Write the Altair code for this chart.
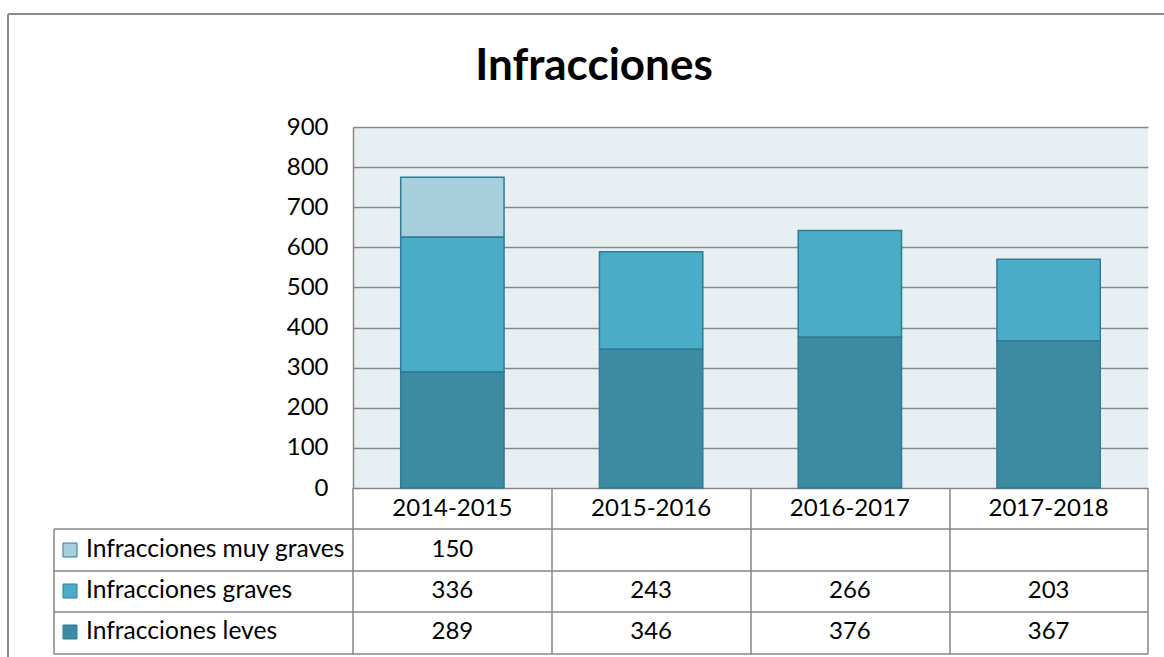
import altair as alt
import pandas as pd

years = ["2014-2015", "2015-2016", "2016-2017", "2017-2018"]
series = ["Infracciones muy graves", "Infracciones graves", "Infracciones leves"]
muy_graves = [150, None, None, None]
graves = [336, 243, 266, 203]
leves = [289, 346, 376, 367]
colors = ["#A9CEDC", "#4AACC6", "#3C8BA3"]
stack_order = [3, 2, 1]

rows = []
for s, vals, o in zip(series, [muy_graves, graves, leves], stack_order):
    for y, v in zip(years, vals):
        rows.append({"year": y, "series": s, "value": v, "ord": o,
                     "label": "" if v is None else str(v)})
df = pd.DataFrame(rows)

FONT = "Lato"
GRID = "#878787"
W, H = 795, 361
LEFT, TOP = 353, 127
FS = 24

xs = alt.Scale(domain=years, paddingInner=0.48, paddingOuter=0.24)
color_scale = alt.Scale(domain=series, range=colors)

base = alt.Chart(df)

bars = base.transform_filter("datum.value != null").mark_bar(
    stroke="#2F7C94", strokeWidth=1.5
).encode(
    x=alt.X("year:N", scale=xs, axis=None, sort=years),
    y=alt.Y("sum(value):Q", stack="zero",
            scale=alt.Scale(domain=[0, 900], nice=False),
            axis=alt.Axis(values=list(range(0, 901, 100)), title=None,
                          labelFont=FONT, labelFontSize=FS, labelColor="#000000",
                          labelPadding=25, ticks=False, domainColor=GRID,
                          domainWidth=1.5, gridColor=GRID, gridWidth=1.5,
                          gridOpacity=1)),
    color=alt.Color("series:N", scale=color_scale, legend=None),
    order=alt.Order("ord:Q"),
)

layers = [bars]

# table: header year labels
hdr = alt.Chart(pd.DataFrame({"year": years})).mark_text(
    font=FONT, fontSize=FS, color="#000000", baseline="middle"
).encode(x=alt.X("year:N", scale=xs, axis=None, sort=years),
         y=alt.value(509 - TOP), text="year:N")
layers.append(hdr)

row_centers = [550, 591, 632]
for s, yc, c in zip(series, row_centers, colors):
    t = base.transform_filter(alt.datum.series == s).mark_text(
        font=FONT, fontSize=FS, color="#000000", baseline="middle"
    ).encode(x=alt.X("year:N", scale=xs, axis=None, sort=years),
             y=alt.value(yc - TOP), text="label:N")
    layers.append(t)
    sq = alt.Chart(pd.DataFrame({"series": [s]})).mark_square(
        size=196, filled=True, stroke="#2F7C94", strokeWidth=1, opacity=1
    ).encode(x=alt.value(70 - LEFT), y=alt.value(yc - TOP),
             color=alt.Color("series:N", scale=color_scale, legend=None))
    lab = alt.Chart(pd.DataFrame({"series": [s]})).mark_text(
        font=FONT, fontSize=24.6, color="#000000", baseline="middle", align="left"
    ).encode(x=alt.value(86 - LEFT), y=alt.value(yc - TOP), text="series:N")
    layers += [sq, lab]

# table grid lines
col_x = [353, 552, 751, 950, 1148]
for xv in col_x:
    layers.append(alt.Chart(pd.DataFrame({"a": [0]})).mark_rule(
        color=GRID, strokeWidth=1.5).encode(
        x=alt.value(xv - LEFT), y=alt.value(488 - TOP), y2=alt.value(654 - TOP)))
layers.append(alt.Chart(pd.DataFrame({"a": [0]})).mark_rule(
    color=GRID, strokeWidth=1.5).encode(
    x=alt.value(54 - LEFT), y=alt.value(529 - TOP), y2=alt.value(654 - TOP)))
for yv in [529, 571, 612, 654]:
    layers.append(alt.Chart(pd.DataFrame({"a": [0]})).mark_rule(
        color=GRID, strokeWidth=1.5).encode(
        x=alt.value(54 - LEFT), x2=alt.value(1148 - LEFT), y=alt.value(yv - TOP)))

# outer chart border (left and top)
layers.append(alt.Chart(pd.DataFrame({"a": [0]})).mark_rule(
    color="#8C8C8C", strokeWidth=2).encode(
    x=alt.value(8 - LEFT), y=alt.value(14 - TOP), y2=alt.value(700 - TOP)))
layers.append(alt.Chart(pd.DataFrame({"a": [0]})).mark_rule(
    color="#8C8C8C", strokeWidth=2).encode(
    x=alt.value(8 - LEFT), x2=alt.value(1200 - LEFT), y=alt.value(14 - TOP)))

# title
layers.append(alt.Chart(pd.DataFrame({"t": ["Infracciones"]})).mark_text(
    font=FONT, fontSize=44, fontWeight="bold", color="#000000",
    baseline="middle", align="center").encode(
    x=alt.value(594 - LEFT), y=alt.value(67 - TOP), text="t:N"))

chart = alt.layer(*layers).properties(
    width=W, height=H,
    autosize=alt.AutoSizeParams(type="none"),
    padding={"left": LEFT, "top": TOP, "right": 1164 - LEFT - W, "bottom": 657 - TOP - H},
    background="#FFFFFF",
).configure_view(fill="#E8EFF3", strokeWidth=0)

chart.save("out.html", embed_options={"renderer": "svg", "actions": False})
